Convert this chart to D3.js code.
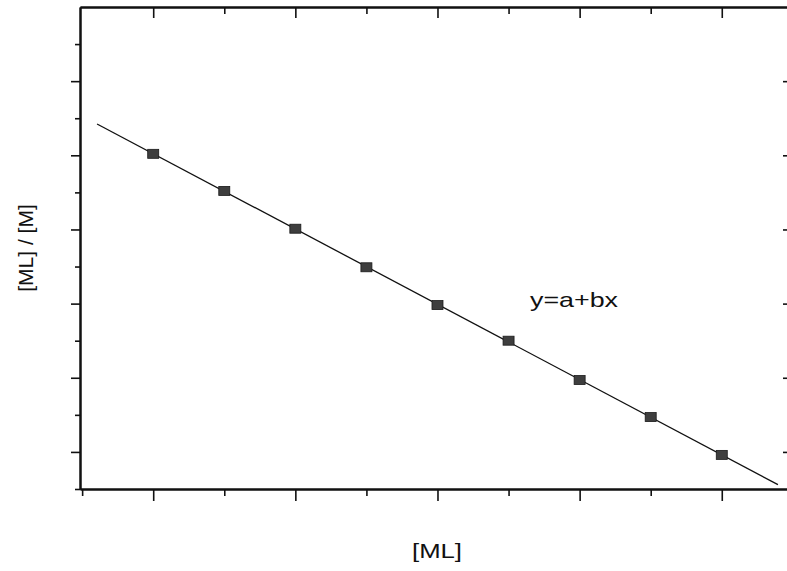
<!DOCTYPE html>
<html>
<head>
<meta charset="utf-8">
<script src="https://cdn.jsdelivr.net/npm/d3@7"></script>
<style>
  html, body { margin: 0; padding: 0; background: #fff; }
  svg { display: block; }
  text { font-family: "Liberation Sans", Arial, sans-serif; fill: #111; }
</style>
</head>
<body>
<div id="chart"></div>
<script>
// Concentration data: bound ligand [ML] vs ratio [ML]/[M]
const mlValues    = [1, 2, 3, 4, 5, 6, 7, 8, 9];
const ratioValues = [5.02, 4.52, 4.01, 3.49, 2.98, 2.50, 1.97, 1.47, 0.96];

// Tick positions (no numeric labels are printed)
const xMajorTicks = [1, 3, 5, 7, 9];
const xMinorTicks = [0, 2, 4, 6, 8];
const yMajorTicks = [1, 2, 3, 4, 5, 6];
const yMinorTicks = [0.5, 1.5, 2.5, 3.5, 4.5, 5.5, 6.5];

const fitLabel = "y=a+bx";
const xTitle = "[ML]";
const yTitle = "[ML] / [M]";

const W = 787, H = 571;
const svg = d3.select("#chart").append("svg").attr("width", W).attr("height", H);

const x = d3.scaleLinear().domain([-0.03, 9.96]).range([80, 790]);
const y = d3.scaleLinear().domain([0.5, 7]).range([489, 7]);

const [x0, x1] = x.range();
const [yb, yt] = y.range();

function styleAxis(g) {
  g.select(".domain").attr("stroke", "#111").attr("stroke-width", 2);
  g.selectAll(".tick line").attr("stroke", "#111").attr("stroke-width", 1.6);
  g.selectAll(".tick text").remove();
}

// Bottom axis: ticks pointing outward
svg.append("g").attr("transform", `translate(0,${yb})`)
  .call(d3.axisBottom(x).tickValues(xMajorTicks).tickSize(12).tickSizeOuter(0).tickFormat(""))
  .call(styleAxis);
svg.append("g").attr("transform", `translate(0,${yb})`)
  .call(d3.axisBottom(x).tickValues(xMinorTicks).tickSize(7).tickSizeOuter(0).tickFormat(""))
  .call(styleAxis);

// Top axis: ticks pointing inward
svg.append("g").attr("transform", `translate(0,${yt})`)
  .call(d3.axisBottom(x).tickValues(xMajorTicks).tickSize(11).tickSizeOuter(0).tickFormat(""))
  .call(styleAxis);
svg.append("g").attr("transform", `translate(0,${yt})`)
  .call(d3.axisBottom(x).tickValues(xMinorTicks.filter(v => v > 0)).tickSize(7).tickSizeOuter(0).tickFormat(""))
  .call(styleAxis);

// Left axis: ticks pointing outward
svg.append("g").attr("transform", `translate(${x0},0)`)
  .call(d3.axisLeft(y).tickValues(yMajorTicks).tickSize(9).tickSizeOuter(0).tickFormat(""))
  .call(styleAxis);
svg.append("g").attr("transform", `translate(${x0},0)`)
  .call(d3.axisLeft(y).tickValues(yMinorTicks).tickSize(5).tickSizeOuter(0).tickFormat(""))
  .call(styleAxis);

// Right axis: short inward ticks at major positions
svg.append("g").attr("transform", `translate(${x1},0)`)
  .call(d3.axisLeft(y).tickValues(yMajorTicks).tickSizeInner(7).tickSizeOuter(0).tickFormat(""))
  .call(styleAxis);

// Least-squares fit y = a + b x
const mx = d3.mean(mlValues), my = d3.mean(ratioValues);
const b = d3.sum(mlValues.map((v, i) => (v - mx) * (ratioValues[i] - my))) /
          d3.sum(mlValues.map(v => (v - mx) * (v - mx)));
const a = my - b * mx;
const fitX = [0.21, 9.79];

svg.append("line")
  .attr("x1", x(fitX[0])).attr("y1", y(a + b * fitX[0]))
  .attr("x2", x(fitX[1])).attr("y2", y(a + b * fitX[1]))
  .attr("stroke", "#111").attr("stroke-width", 1.3);

// Data markers
const mw = 11, mh = 9;
svg.append("g").selectAll("rect")
  .data(mlValues.map((v, i) => [v, ratioValues[i]]))
  .join("rect")
  .attr("x", d => x(d[0]) - mw / 2)
  .attr("y", d => y(d[1]) - mh / 2)
  .attr("width", mw).attr("height", mh)
  .attr("fill", "#3e3e3e").attr("stroke", "#1a1a1a").attr("stroke-width", 0.8);

// Fit equation label
svg.append("text")
  .attr("x", 530).attr("y", 307)
  .attr("font-size", 21)
  .attr("textLength", 88).attr("lengthAdjust", "spacingAndGlyphs")
  .text(fitLabel);

// Axis titles
svg.append("text")
  .attr("x", 412).attr("y", 558)
  .attr("font-size", 21)
  .attr("textLength", 50).attr("lengthAdjust", "spacingAndGlyphs")
  .text(xTitle);

svg.append("text")
  .attr("transform", "translate(33,248) rotate(-90)")
  .attr("text-anchor", "middle")
  .attr("font-size", 21)
  .text(yTitle);
</script>
</body>
</html>
